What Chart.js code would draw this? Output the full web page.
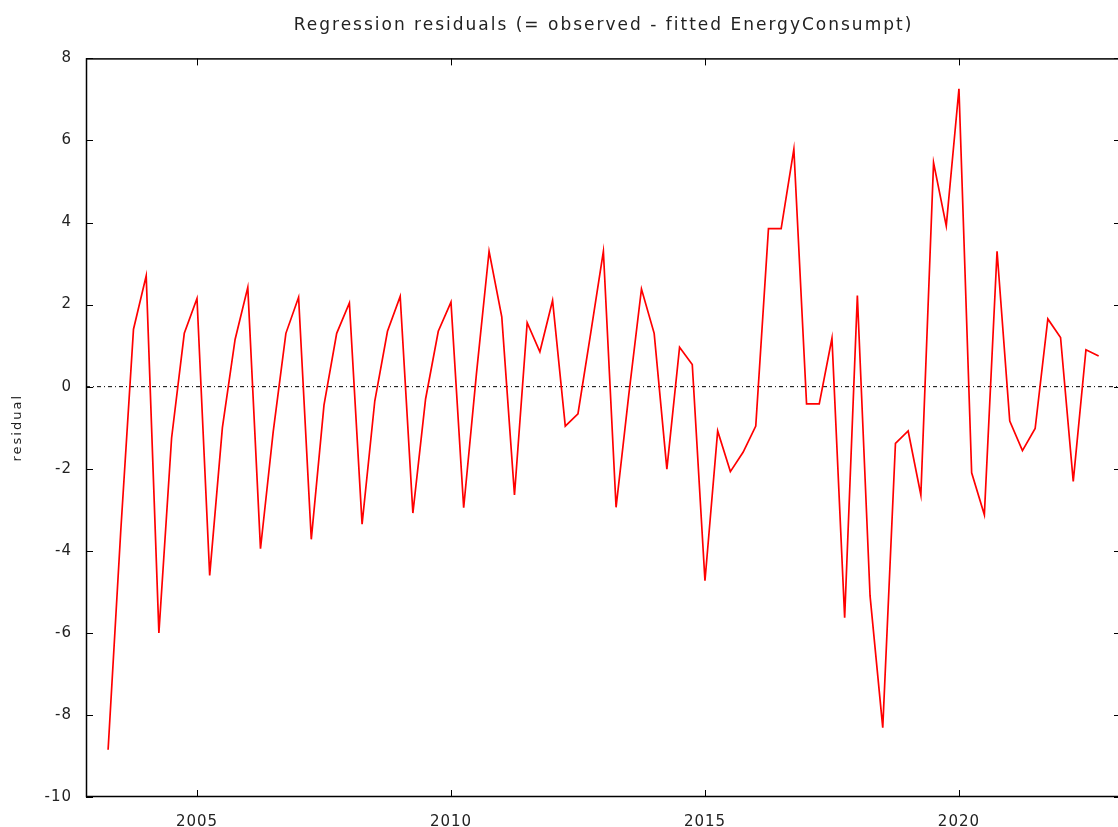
<!DOCTYPE html>
<html>
<head>
<meta charset="utf-8">
<title>Regression residuals</title>
<script src="https://cdn.jsdelivr.net/npm/chart.js@4.4.1/dist/chart.umd.min.js"></script>
<style>
  html, body { margin: 0; padding: 0; background: #fff; overflow: hidden; }
  #wrap { width: 1118px; height: 827px; overflow: hidden; }
</style>
</head>
<body>
<div id="wrap"><canvas id="grafico" width="1121" height="827"></canvas></div>
<script>
// observation periods (year:quarter)
const periodos = [
  '2003:2', '2003:3', '2003:4',
  '2004:1', '2004:2', '2004:3', '2004:4',
  '2005:1', '2005:2', '2005:3', '2005:4',
  '2006:1', '2006:2', '2006:3', '2006:4',
  '2007:1', '2007:2', '2007:3', '2007:4',
  '2008:1', '2008:2', '2008:3', '2008:4',
  '2009:1', '2009:2', '2009:3', '2009:4',
  '2010:1', '2010:2', '2010:3', '2010:4',
  '2011:1', '2011:2', '2011:3', '2011:4',
  '2012:1', '2012:2', '2012:3', '2012:4',
  '2013:1', '2013:2', '2013:3', '2013:4',
  '2014:1', '2014:2', '2014:3', '2014:4',
  '2015:1', '2015:2', '2015:3', '2015:4',
  '2016:1', '2016:2', '2016:3', '2016:4',
  '2017:1', '2017:2', '2017:3', '2017:4',
  '2018:1', '2018:2', '2018:3', '2018:4',
  '2019:1', '2019:2', '2019:3', '2019:4',
  '2020:1', '2020:2', '2020:3', '2020:4',
  '2021:1', '2021:2', '2021:3', '2021:4',
  '2022:1', '2022:2', '2022:3', '2022:4'
];

// residuals
const residuos = [
  -8.85, -3.5, 1.4,
  2.7, -6.0, -1.25, 1.3,
  2.15, -4.6, -1.0, 1.15,
  2.42, -3.95, -1.1, 1.3,
  2.18, -3.72, -0.45, 1.3,
  2.04, -3.35, -0.35, 1.35,
  2.2, -3.08, -0.3, 1.35,
  2.06, -2.95, 0.3, 3.3,
  1.7, -2.64, 1.56, 0.85,
  2.1, -0.96, -0.66, 1.3,
  3.3, -2.94, -0.2, 2.38,
  1.3, -2.01, 0.96, 0.54,
  -4.73, -1.08, -2.07, -1.6,
  -0.96, 3.85, 3.85, 5.79,
  -0.42, -0.42, 1.18, -5.63,
  2.22, -5.1, -8.31, -1.38,
  -1.08, -2.64, 5.46, 3.92,
  7.26, -2.1, -3.12, 3.3,
  -0.84, -1.56, -1.02, 1.65,
  1.2, -2.31, 0.9, 0.75
];

const ticksX = [2005, 2010, 2015, 2020];
const ticksY = [-10, -8, -6, -4, -2, 0, 2, 4, 6, 8];
const rangoX = [2002.815, 2023.19];

const puntos = periodos.map((p, i) => {
  const [anio, trim] = p.split(':').map(Number);
  return { x: anio + (trim - 1) / 4, y: residuos[i] };
});

// gretl's font is spaced out a bit more than DejaVu
function conEspacio(obj, metodo, ctx, esp) {
  const orig = obj[metodo].bind(obj);
  obj[metodo] = function (...args) {
    ctx.letterSpacing = esp;
    orig(...args);
    ctx.letterSpacing = '0px';
  };
}

const espaciado = {
  id: 'espaciado',
  beforeDraw(chart) {
    if (chart._espaciado) return;
    chart._espaciado = true;
    const ctx = chart.ctx;
    if (chart.titleBlock) conEspacio(chart.titleBlock, 'draw', ctx, '2px');
    conEspacio(chart.scales.x, 'drawLabels', ctx, '1px');
    conEspacio(chart.scales.y, 'drawLabels', ctx, '1px');
    conEspacio(chart.scales.y, 'drawTitle', ctx, '2px');
  }
};

// frame + inward tick marks like gretl/gnuplot
const marco = {
  id: 'marco',
  afterDraw(chart) {
    const { ctx, chartArea: a, scales } = chart;
    ctx.save();
    ctx.strokeStyle = '#000';
    ctx.lineWidth = 1.5;
    ctx.strokeRect(a.left + 0.5, a.top + 0.5, a.right - a.left - 1, a.bottom - a.top - 1);
    ctx.lineWidth = 1;
    ticksY.forEach(v => {
      const py = Math.round(scales.y.getPixelForValue(v)) + 0.5;
      ctx.beginPath();
      ctx.moveTo(a.left, py); ctx.lineTo(a.left + 7, py);
      ctx.moveTo(a.right, py); ctx.lineTo(a.right - 7, py);
      ctx.stroke();
    });
    ticksX.forEach(v => {
      const px = Math.round(scales.x.getPixelForValue(v)) + 0.5;
      ctx.beginPath();
      ctx.moveTo(px, a.bottom); ctx.lineTo(px, a.bottom - 7);
      ctx.moveTo(px, a.top); ctx.lineTo(px, a.top + 7);
      ctx.stroke();
    });
    ctx.restore();
  }
};

const ctx = document.getElementById('grafico').getContext('2d');
new Chart(ctx, {
  type: 'scatter',
  data: {
    datasets: [
      {
        label: 'residual',
        data: puntos,
        showLine: true,
        borderColor: '#ff0000',
        backgroundColor: '#ff0000',
        borderWidth: 1.7,
        pointRadius: 0,
        tension: 0,
        order: 1
      },
      {
        label: 'cero',
        data: [{ x: rangoX[0], y: 0 }, { x: rangoX[1], y: 0 }],
        showLine: true,
        borderColor: '#000',
        borderWidth: 1,
        borderDash: [4, 3, 1, 3],
        pointRadius: 0,
        order: 2
      }
    ]
  },
  options: {
    responsive: false,
    devicePixelRatio: 1,
    animation: false,
    layout: { padding: 0 },
    plugins: {
      legend: { display: false },
      tooltip: { enabled: false },
      title: {
        display: true,
        fullSize: false,
        text: 'Regression residuals (= observed - fitted EnergyConsumpt)',
        color: '#222',
        font: { family: 'DejaVu Sans', size: 17, weight: 'normal' },
        padding: { top: 15, bottom: 23 }
      }
    },
    scales: {
      x: {
        type: 'linear',
        min: rangoX[0],
        max: rangoX[1],
        afterBuildTicks: s => { s.ticks = ticksX.map(v => ({ value: v })); },
        afterFit: s => { s.height = 30; },
        grid: { drawOnChartArea: false, drawTicks: false },
        border: { display: false },
        ticks: {
          color: '#222',
          padding: 16,
          maxRotation: 0,
          font: { family: 'DejaVu Sans', size: 15 },
          callback: v => String(v)
        }
      },
      y: {
        min: -10,
        max: 8,
        afterBuildTicks: s => { s.ticks = ticksY.map(v => ({ value: v })); },
        afterFit: s => { s.width = 86; },
        grid: { drawOnChartArea: false, drawTicks: false },
        border: { display: false },
        title: {
          display: true,
          text: 'residual',
          color: '#222',
          font: { family: 'DejaVu Sans', size: 13 },
          padding: { top: 10, bottom: 0 }
        },
        ticks: {
          color: '#222',
          padding: 14,
          font: { family: 'DejaVu Sans', size: 15 },
          callback: v => String(v)
        }
      }
    }
  },
  plugins: [espaciado, marco]
});
</script>
</body>
</html>
